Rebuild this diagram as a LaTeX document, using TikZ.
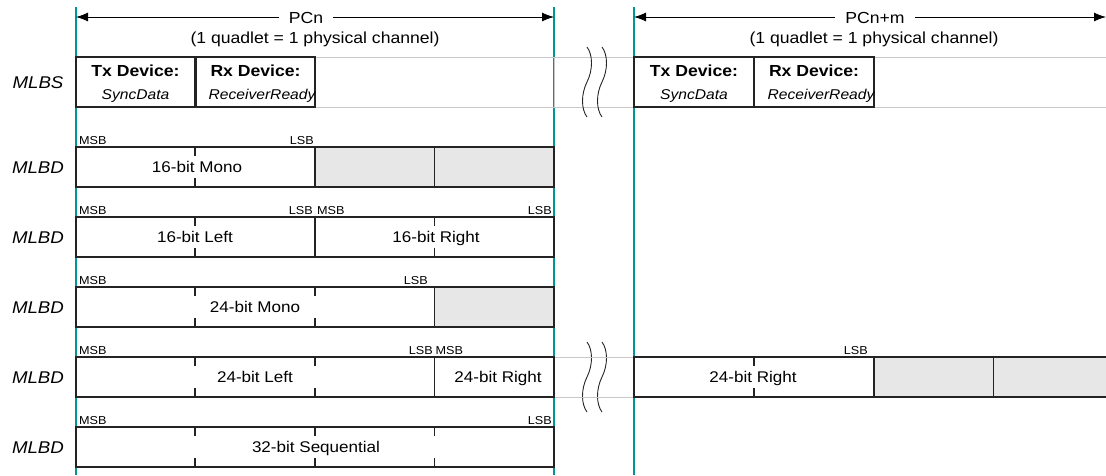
\documentclass[tikz,border=0pt]{standalone}
\usepackage{fontspec}
\setmainfont{Liberation Sans}[FakeStretch=1.1]
\usetikzlibrary{arrows.meta}
\definecolor{tealline}{RGB}{0,150,150}
\definecolor{cellgray}{RGB}{231,231,231}
\definecolor{rowgray}{RGB}{200,200,200}
\definecolor{boxline}{RGB}{35,35,35}
\begin{document}
\begin{tikzpicture}[x=1pt,y=-1pt,
  rowlabel/.style={font=\fontsize{17}{20}\selectfont\itshape, inner sep=0pt, anchor=base},
  hdr/.style={font=\fontsize{16}{19}\selectfont, inner sep=0pt, anchor=base},
  celltext/.style={font=\fontsize{15.5}{18}\selectfont, inner sep=0pt, anchor=base},
  devhead/.style={font=\fontsize{16}{19}\selectfont\bfseries, inner sep=0pt, anchor=base},
  devsig/.style={font=\fontsize{14.2}{17}\selectfont\itshape, inner sep=0pt, anchor=base},
  msblbl/.style={font=\fontsize{11.5}{13}\selectfont, inner sep=0pt, anchor=base west},
  lsblbl/.style={font=\fontsize{11.5}{13}\selectfont, inner sep=0pt, anchor=base east},
  cellbox/.style={draw=boxline, line width=1.3pt, inner sep=0pt, outer sep=0pt, anchor=north west, minimum height=40pt},
  graycell/.style={cellbox, fill=cellgray},
  devbox/.style={draw=boxline, line width=1.3pt, inner sep=0pt, outer sep=0pt, anchor=north west, minimum height=50pt, minimum width=120pt},
  bittick/.style={draw=boxline, line width=1.3pt},
  sepline/.style={draw=rowgray, line width=1pt},
  chanline/.style={draw=tealline, line width=1.2pt},
  dimarrow/.style={draw=black, line width=0.9pt, {Latex[length=12pt,width=9pt]}-{Latex[length=12pt,width=9pt]}},
  breakmark/.style={draw=black!85, line width=0.9pt}
]
\clip (0,0) rectangle (1106,475);
\fill[white] (0,0) rectangle (1106,475);

% channel boundaries
\coordinate (c1t) at (76,7);   \coordinate (c1b) at (76,475);
\coordinate (c2t) at (554,7);  \coordinate (c2b) at (554,475);
\coordinate (c3t) at (634,7);  \coordinate (c3b) at (634,475);
\draw[chanline] (c1t) -- (c1b);
\draw[chanline] (c2t) -- (c2b);
\draw[chanline] (c3t) -- (c3b);

% header arrows
\coordinate (a1l) at (76,17);  \coordinate (a1r) at (554,17);
\coordinate (a2l) at (634,17); \coordinate (a2r) at (1106,17);
\draw[dimarrow] (a1l) -- (a1r);
\draw[dimarrow] (a2l) -- (a2r);
\node[hdr, fill=white, inner xsep=10pt, inner ysep=2pt] (pcn) at (306,23) {PCn};
\node[hdr, fill=white, inner xsep=10pt, inner ysep=2pt] (pcnm) at (875,23) {PCn+m};
\node[hdr] (q1) at (315,43) {(1 quadlet = 1 physical channel)};
\node[hdr] (q2) at (874,43) {(1 quadlet = 1 physical channel)};

% MLBS row
\draw[sepline] (76,57) rectangle (554,107);
\draw[sepline] (554,57) -- (1106,57);
\draw[sepline] (554,107) -- (1106,107);
\node[rowlabel] (lmlbs) at (38,88) {MLBS};
\node[devbox] (tx1) at (76,57) {};
\node[devbox] (rx1) at (195,57) {};
\node[devhead] (tx1h) at (135.5,76.5) {Tx Device:};
\node[devsig]  (tx1s) at (135.5,99) {SyncData};
\node[devhead] (rx1h) at (255.5,76.5) {Rx Device:};
\node[devsig]  (rx1s) at (262,99) {ReceiverReady};
\node[devbox] (tx2) at (634,57) {};
\node[devbox] (rx2) at (754,57) {};
\node[devhead] (tx2h) at (694,76.5) {Tx Device:};
\node[devsig]  (tx2s) at (694,99) {SyncData};
\node[devhead] (rx2h) at (814,76.5) {Rx Device:};
\node[devsig]  (rx2s) at (821,99) {ReceiverReady};

% break marks
\foreach \dx/\dy/\nm in {0/0/ba, 15/0/bb, 0/295/bc, 15/295/bd}{
  \draw[breakmark] (587+\dx,47+\dy) .. controls (593+\dx,55+\dy) and (593+\dx,70+\dy) .. (587+\dx,82+\dy)
     .. controls (581+\dx,94+\dy) and (581+\dx,109+\dy) .. (587+\dx,117+\dy);
}

% Row 1: 16-bit Mono
\node[rowlabel] (l1) at (38,173) {MLBD};
\node[msblbl] (m1) at (79,144) {MSB};
\node[lsblbl] (s1) at (314,144) {LSB};
\node[cellbox, minimum width=239pt] (r1a) at (76,147) {};
\node[graycell, minimum width=119.5pt] (r1b) at (315,147) {};
\node[graycell, minimum width=119.5pt] (r1c) at (434.5,147) {};
\draw[bittick] (195,147) -- ++(0,9);
\draw[bittick] (195,187) -- ++(0,-9);
\node[celltext] (t1) at (197,172.5) {16-bit Mono};

% Row 2: 16-bit Left / Right
\node[rowlabel] (l2) at (38,243) {MLBD};
\node[msblbl] (m2a) at (79,214) {MSB};
\node[lsblbl] (s2a) at (313,214) {LSB};
\node[msblbl] (m2b) at (317,214) {MSB};
\node[lsblbl] (s2b) at (552,214) {LSB};
\node[cellbox, minimum width=239pt] (r2a) at (76,217) {};
\node[cellbox, minimum width=239pt] (r2b) at (315,217) {};
\draw[bittick] (195,217) -- ++(0,9);
\draw[bittick] (195,257) -- ++(0,-9);
\draw[bittick] (434.5,217) -- ++(0,9);
\draw[bittick] (434.5,257) -- ++(0,-9);
\node[celltext] (t2a) at (195,242.5) {16-bit Left};
\node[celltext] (t2b) at (436,242.5) {16-bit Right};

% Row 3: 24-bit Mono
\node[rowlabel] (l3) at (38,313) {MLBD};
\node[msblbl] (m3) at (79,284) {MSB};
\node[lsblbl] (s3) at (428,284) {LSB};
\node[cellbox, minimum width=358.5pt] (r3a) at (76,287) {};
\node[graycell, minimum width=119.5pt] (r3b) at (434.5,287) {};
\foreach \xx in {195,315}{
  \draw[bittick] (\xx,287) -- ++(0,9);
  \draw[bittick] (\xx,327) -- ++(0,-9);
}
\node[celltext] (t3) at (255,312.5) {24-bit Mono};

% Row 4: 24-bit Left / Right
\node[rowlabel] (l4) at (38,383) {MLBD};
\draw[sepline] (554,357) -- (634,357);
\draw[sepline] (554,397) -- (634,397);
\node[msblbl] (m4a) at (79,354) {MSB};
\node[lsblbl] (s4a) at (433,354) {LSB};
\node[msblbl] (m4b) at (435.5,354) {MSB};
\node[lsblbl] (s4b) at (868,354) {LSB};
\node[cellbox, minimum width=358.5pt] (r4a) at (76,357) {};
\node[cellbox, minimum width=119.5pt] (r4b) at (434.5,357) {};
\foreach \xx in {195,315}{
  \draw[bittick] (\xx,357) -- ++(0,9);
  \draw[bittick] (\xx,397) -- ++(0,-9);
}
\node[celltext] (t4a) at (255,382.5) {24-bit Left};
\node[celltext] (t4b) at (498,382.5) {24-bit Right};
\node[cellbox, minimum width=240pt] (r4c) at (634,357) {};
\node[graycell, minimum width=119.5pt] (r4d) at (874,357) {};
\node[graycell, minimum width=119.5pt] (r4e) at (993.5,357) {};
\draw[bittick] (754,357) -- ++(0,9);
\draw[bittick] (754,397) -- ++(0,-9);
\node[celltext] (t4c) at (753,382.5) {24-bit Right};

% Row 5: 32-bit Sequential
\node[rowlabel] (l5) at (38,453) {MLBD};
\node[msblbl] (m5) at (79,424) {MSB};
\node[lsblbl] (s5) at (552,424) {LSB};
\node[cellbox, minimum width=478pt] (r5a) at (76,427) {};
\foreach \xx in {195,315,434.5}{
  \draw[bittick] (\xx,427) -- ++(0,9);
  \draw[bittick] (\xx,467) -- ++(0,-9);
}
\node[celltext] (t5) at (316,452.5) {32-bit Sequential};
\end{tikzpicture}
\end{document}
